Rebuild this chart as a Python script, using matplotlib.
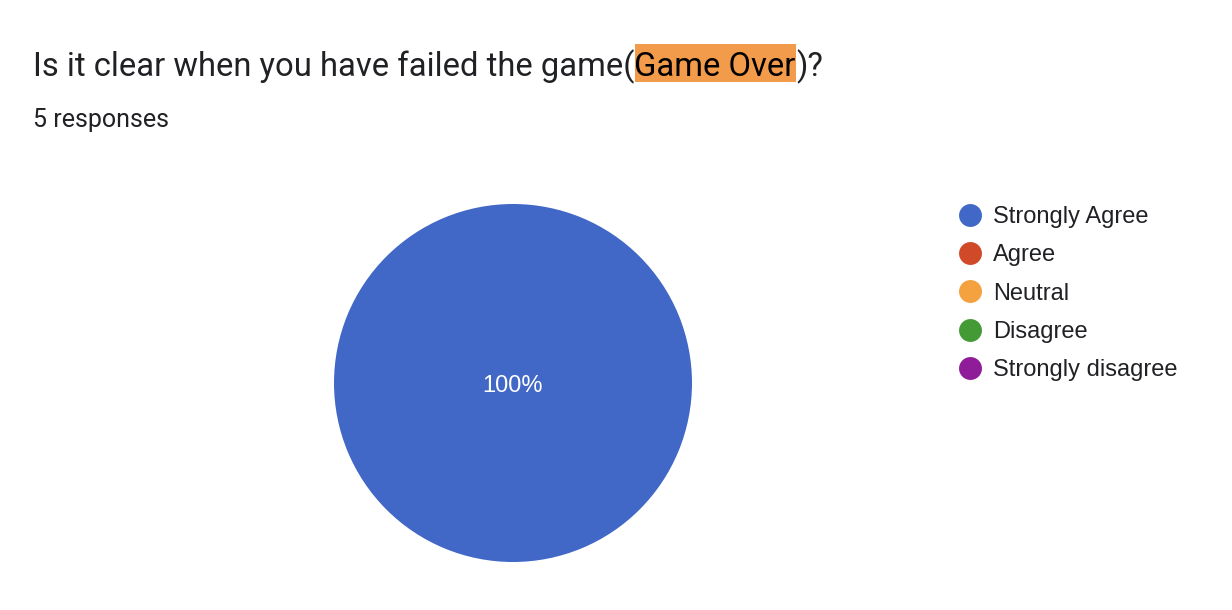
#!/usr/bin/env python3
# -*- coding: utf-8 -*-

"""Google Forms style pie chart: 'Game Over' question"""

import matplotlib
matplotlib.use('Agg')
import matplotlib.pyplot as plt
from matplotlib.lines import Line2D
from matplotlib.patches import Rectangle


# -- Data -- #
QUESTION_PRE = 'Is it clear when you have failed the game('
QUESTION_MARK = 'Game Over'
QUESTION_POST = ')?'
N_RESPONSES = 5
labels = ['Strongly Agree', 'Agree', 'Neutral', 'Disagree', 'Strongly disagree']
counts = [5, 0, 0, 0, 0]
colors = ['#4167c7', '#d04a2a', '#f4a13f', '#449a35', '#8f1c98']

W, H = 1232, 610
TEXT_COL = '#202124'


def pct_label(pct):
    return f'{pct:.0f}%' if pct > 0 else ''


def draw_title(fig):
    renderer = fig.canvas.get_renderer()
    y_base = H - 76
    t1 = fig.text(33, y_base, QUESTION_PRE, transform=None, fontsize=23.6,
                  family='Roboto', color=TEXT_COL, va='baseline')
    x = t1.get_window_extent(renderer).x1
    t2 = fig.text(x, y_base, QUESTION_MARK, transform=None, fontsize=23.6,
                  family='Roboto', color='black', va='baseline', zorder=3)
    x2 = t2.get_window_extent(renderer).x1
    fig.patches.append(Rectangle((x, H - 82), x2 - x, 38, transform=None,
                                 facecolor='#f29b4a', edgecolor='none', zorder=1))
    fig.text(x2, y_base, QUESTION_POST, transform=None, fontsize=23.6,
             family='Roboto', color=TEXT_COL, va='baseline')
    fig.text(33, H - 127, f'{N_RESPONSES} responses', transform=None, fontsize=18,
             family='Roboto', color=TEXT_COL, va='baseline')


def main():
    fig = plt.figure(figsize=(W / 100, H / 100), dpi=100)
    fig.canvas.draw()

    cx, cy, r = 513, H - 383, 179
    ax = fig.add_axes([(cx - r) / W, (cy - r) / H, 2 * r / W, 2 * r / H])
    _, _, autotexts = ax.pie(counts, colors=colors, startangle=90, counterclock=False,
                             autopct=pct_label, pctdistance=0,
                             wedgeprops=dict(linewidth=0),
                             textprops=dict(color='white', fontsize=17,
                                            family='Liberation Sans'))
    for t in autotexts:
        t.set_va('center_baseline')
    ax.set_xlim(-1, 1)
    ax.set_ylim(-1, 1)
    ax.axis('off')

    handles = [Line2D([], [], linestyle='none', marker='o', markersize=16.5,
                      markerfacecolor=c, markeredgecolor='none') for c in colors]
    fig.legend(handles, labels, loc='upper left', bbox_to_anchor=(958 / W, (H - 206) / H),
               frameon=False, borderpad=0, borderaxespad=0, handlelength=1.05,
               handletextpad=0.45, labelspacing=0.69,
               prop=dict(family='Liberation Sans', size=17), labelcolor=TEXT_COL)

    draw_title(fig)
    fig.savefig('out.png', dpi=100)


if __name__ == '__main__':
    main()
